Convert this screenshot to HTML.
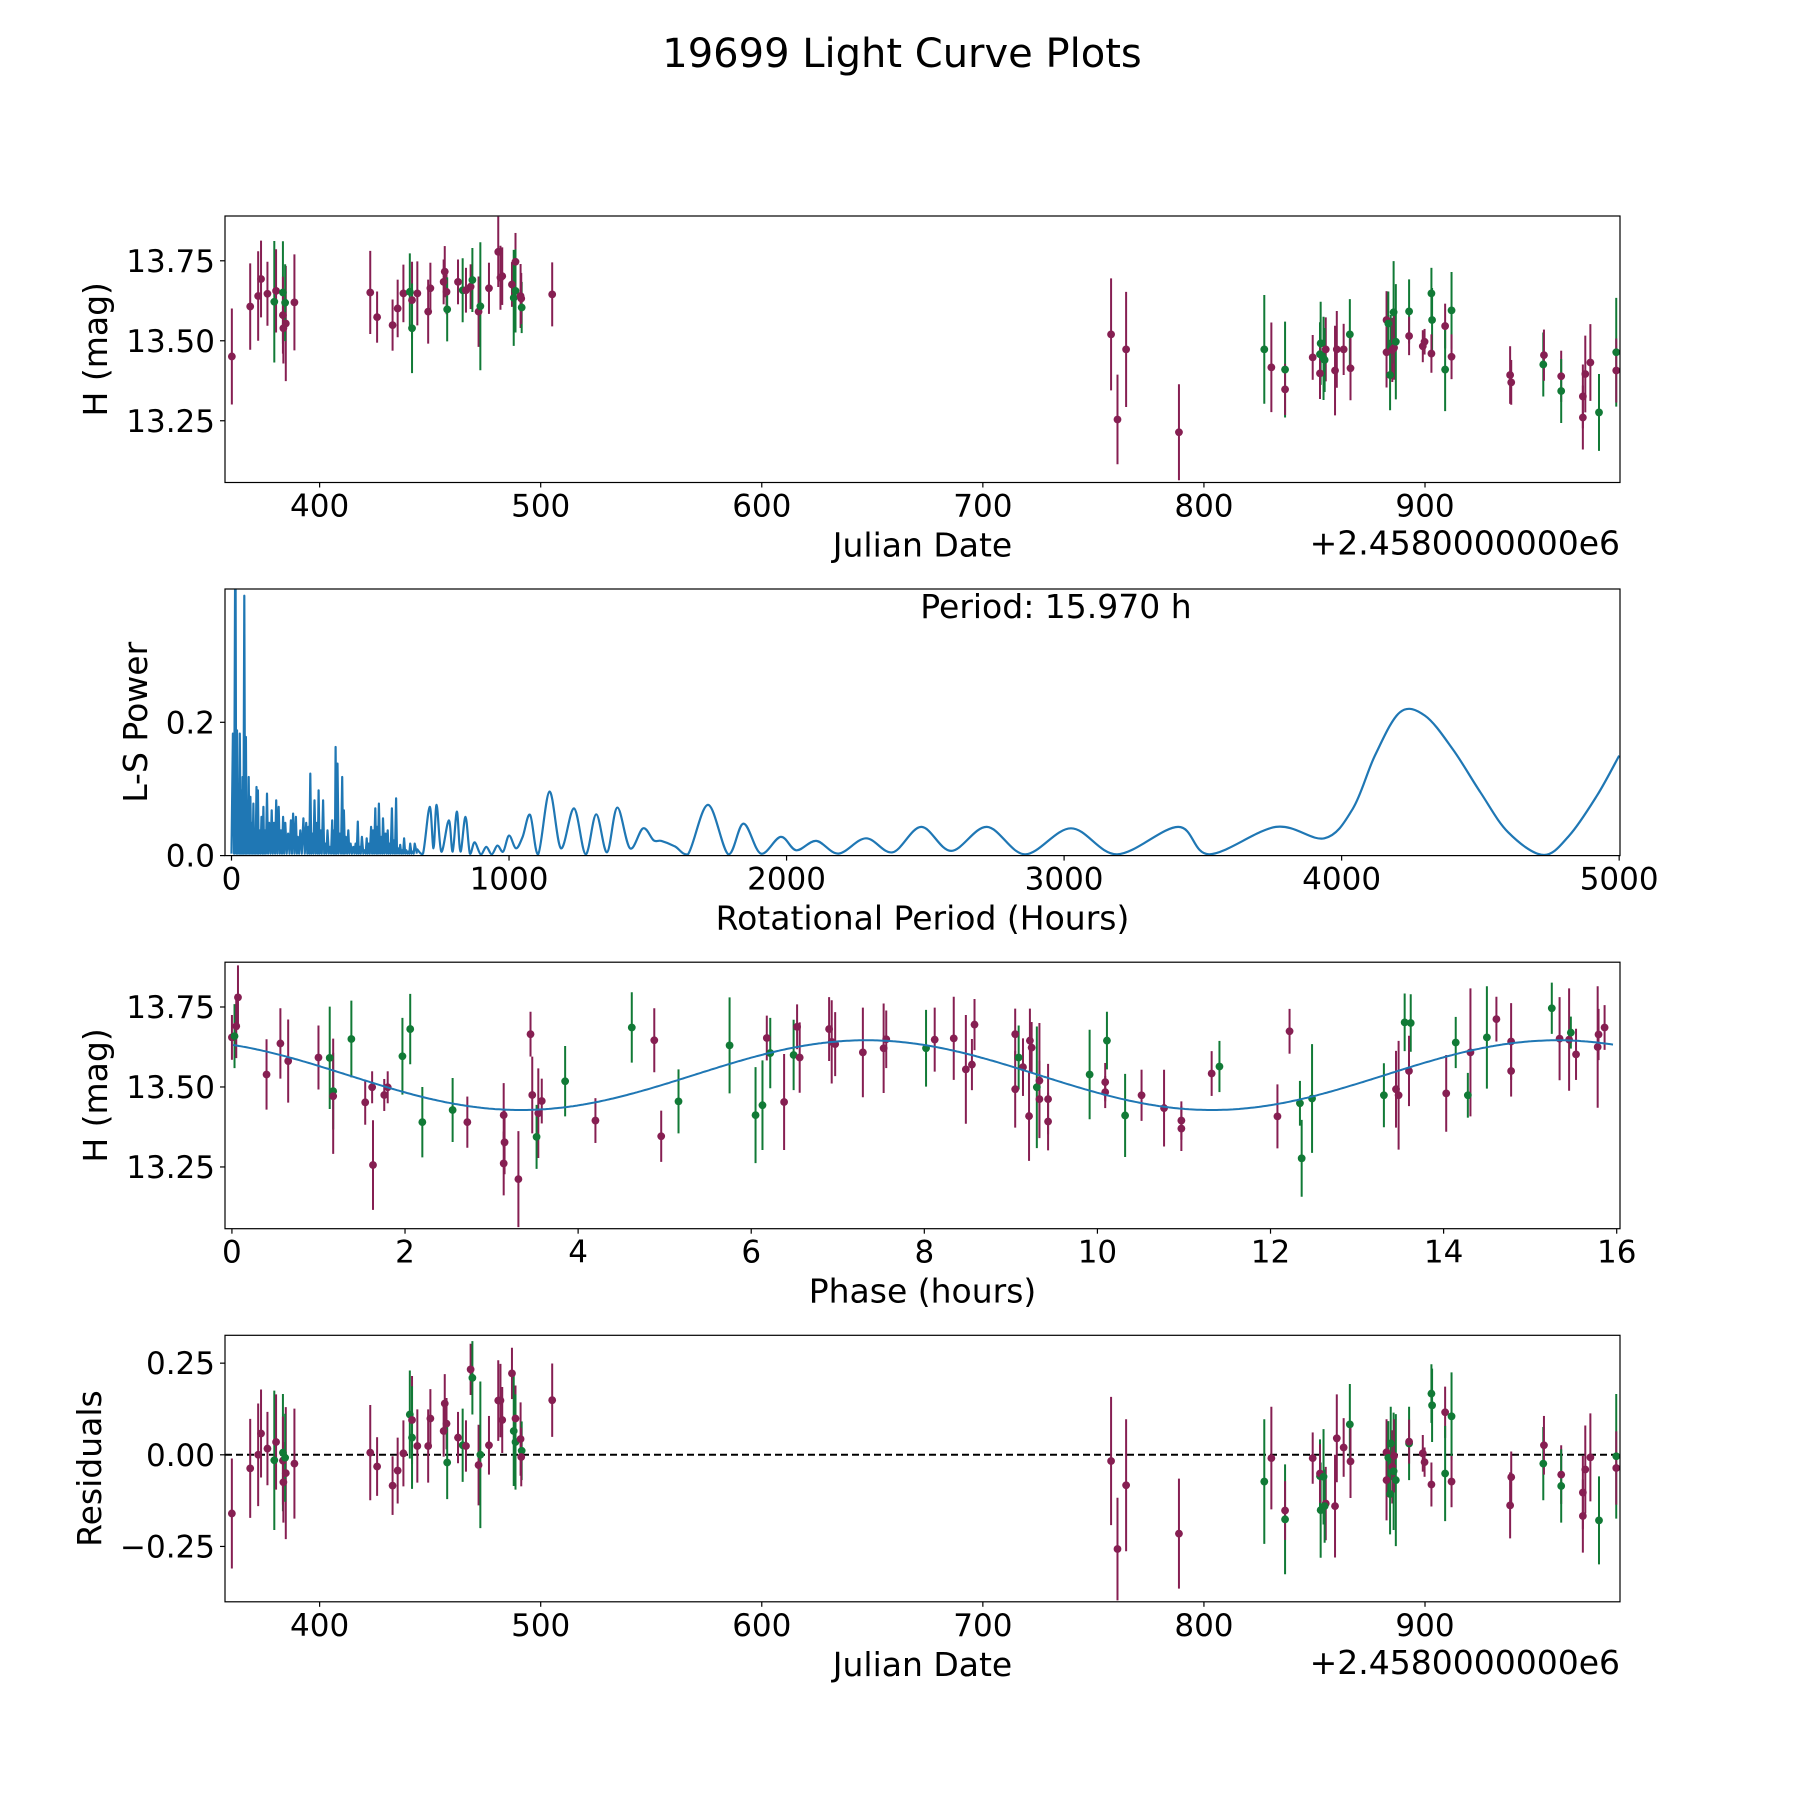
<!DOCTYPE html>
<html><head><meta charset="utf-8"><title>19699 Light Curve Plots</title>
<style>
html,body{margin:0;padding:0;background:#fff;}
svg{display:block;font-family:"DejaVu Sans","Liberation Sans",sans-serif;}
</style></head>
<body>
<svg id="fig" xmlns="http://www.w3.org/2000/svg" width="1800" height="1800" viewBox="0 0 1800 1800">
<rect x="0" y="0" width="1800" height="1800" fill="#fff"/>
<text x="902" y="67" font-size="40" text-anchor="middle" fill="#000">19699 Light Curve Plots</text>
</svg>
<script>
// ---------- Panel 1 / 4 data (Julian Date offset, magnitude, error, band) ----------
const jdOffset = [360.3,368.6,372.2,373.5,376.4,379.5,380.3,383.4,383.4,383.6,384.7,384.4,388.6,422.9,426.0,433.0,435.3,437.9,440.8,441.8,441.8,444.2,449.1,450.1,456.1,456.6,457.4,457.7,462.6,464.7,466.2,468.3,469.1,471.9,472.7,476.6,480.8,481.8,482.6,487.0,487.8,488.6,488.6,490.9,491.4,491.2,505.2,
758.0,760.9,764.8,788.7,827.3,830.5,836.7,836.7,849.2,852.5,852.8,852.5,854.1,855.1,854.6,859.3,860.1,863.2,866.0,866.3,882.6,882.6,883.4,884.2,884.5,885.2,885.8,886.0,886.8,892.8,892.8,899.0,899.8,902.9,903.2,902.9,909.1,909.1,912.0,912.0,938.5,939.0,953.5,953.8,961.6,961.6,971.4,971.4,972.5,974.8,978.7,986.5,986.5];
const magH = [13.451,13.607,13.640,13.693,13.647,13.622,13.656,13.651,13.580,13.539,13.554,13.619,13.620,13.651,13.574,13.549,13.601,13.648,13.653,13.627,13.539,13.648,13.591,13.664,13.684,13.716,13.653,13.598,13.684,13.658,13.658,13.669,13.690,13.591,13.608,13.664,13.778,13.697,13.702,13.676,13.634,13.747,13.656,13.640,13.604,13.632,13.645,
13.520,13.254,13.473,13.214,13.473,13.417,13.410,13.348,13.448,13.458,13.492,13.398,13.445,13.473,13.440,13.407,13.473,13.473,13.520,13.414,13.565,13.464,13.554,13.393,13.481,13.471,13.589,13.478,13.497,13.592,13.515,13.483,13.497,13.648,13.565,13.460,13.546,13.410,13.595,13.450,13.393,13.370,13.426,13.455,13.389,13.343,13.326,13.260,13.396,13.432,13.276,13.464,13.407];
const magErr = [0.15,0.135,0.14,0.12,0.10,0.19,0.13,0.16,0.12,0.11,0.18,0.12,0.15,0.13,0.08,0.08,0.09,0.09,0.12,0.12,0.14,0.10,0.10,0.08,0.07,0.08,0.07,0.10,0.07,0.10,0.07,0.07,0.10,0.11,0.20,0.08,0.11,0.10,0.09,0.07,0.15,0.09,0.13,0.10,0.08,0.08,0.10,
0.175,0.14,0.18,0.15,0.17,0.14,0.15,0.08,0.07,0.10,0.13,0.08,0.13,0.10,0.10,0.14,0.12,0.08,0.11,0.10,0.09,0.11,0.10,0.11,0.10,0.10,0.16,0.10,0.18,0.10,0.06,0.05,0.04,0.08,0.10,0.06,0.07,0.13,0.12,0.07,0.09,0.07,0.10,0.08,0.08,0.10,0.10,0.10,0.12,0.12,0.12,0.17,0.10];
const band = "PPPPPGPGPPPGPPPPPPGPGPPPPPPGPGPPGPGPPPPPGPGPGPP"+"PPPPGPGPPGGPGPGPPPGPPPGGGPGPGGPPPGGPPGGPPPGPPGPPPPGGP";
const residual = [-0.16,-0.037,0.0,0.058,0.017,-0.015,0.035,0.006,-0.016,-0.075,-0.05,-0.008,-0.024,0.006,-0.032,-0.084,-0.043,0.004,0.11,0.095,0.047,0.024,0.024,0.099,0.065,0.14,0.085,-0.021,0.047,0.026,0.024,0.233,0.21,-0.028,0.0,0.026,0.148,0.148,0.095,0.222,0.065,0.099,0.035,0.043,0.011,-0.006,0.149,
-0.017,-0.257,-0.083,-0.215,-0.073,-0.009,-0.176,-0.152,-0.009,-0.058,-0.151,-0.051,-0.06,-0.133,-0.14,-0.14,0.045,0.02,0.083,-0.018,0.007,-0.069,-0.008,-0.107,0.031,-0.033,-0.045,-0.003,-0.069,0.031,0.036,0.004,-0.02,0.167,0.135,-0.081,0.116,-0.051,0.105,-0.073,-0.138,-0.061,-0.024,0.026,-0.054,-0.085,-0.167,-0.103,-0.04,-0.007,-0.179,-0.004,-0.036];

// ---------- Panel 3 data (phase hours, magnitude, error, band) ----------
const phase = [0.0,0.03,0.05,0.07,0.40,0.56,0.65,1.0,1.13,1.17,1.17,1.38,1.54,1.62,1.63,1.76,1.80,1.97,2.06,2.20,2.55,2.72,3.14,3.15,3.14,3.31,3.45,3.47,3.54,3.52,3.58,3.85,4.20,4.62,4.88,4.96,5.16,5.75,6.05,6.13,6.18,6.22,6.38,6.49,6.53,6.56,6.90,6.93,6.97,7.29,7.53,7.56,8.02,8.12,
8.34,8.48,8.55,8.58,9.05,9.05,9.09,9.14,9.21,9.22,9.24,9.30,9.33,9.33,9.43,9.43,9.91,10.09,10.09,10.11,10.32,10.51,10.77,10.97,10.97,11.32,11.41,12.08,12.22,12.34,12.36,12.48,13.31,13.45,13.48,13.55,13.62,13.60,14.03,14.14,14.28,14.31,14.50,14.61,14.78,14.78,15.25,15.34,15.45,15.47,15.53,15.78,15.79,15.86];
const phaseMag = [13.655,13.659,13.69,13.78,13.539,13.636,13.581,13.592,13.591,13.487,13.471,13.65,13.452,13.499,13.256,13.475,13.499,13.596,13.681,13.39,13.428,13.39,13.412,13.327,13.261,13.212,13.665,13.475,13.418,13.344,13.456,13.518,13.395,13.686,13.646,13.346,13.455,13.63,13.412,13.443,13.653,13.606,13.453,13.6,13.688,13.592,13.681,13.641,13.634,13.608,13.621,13.649,13.621,13.648,
13.652,13.555,13.57,13.695,13.665,13.493,13.592,13.562,13.409,13.645,13.623,13.499,13.52,13.462,13.462,13.392,13.539,13.515,13.484,13.645,13.411,13.474,13.434,13.395,13.37,13.542,13.564,13.408,13.674,13.449,13.277,13.464,13.474,13.493,13.474,13.702,13.7,13.55,13.48,13.639,13.474,13.608,13.655,13.712,13.642,13.55,13.746,13.651,13.648,13.67,13.602,13.625,13.664,13.686];
const phaseErr = [0.07,0.1,0.1,0.1,0.11,0.11,0.13,0.1,0.16,0.12,0.18,0.12,0.07,0.05,0.14,0.05,0.05,0.12,0.11,0.11,0.1,0.08,0.1,0.1,0.1,0.15,0.07,0.12,0.14,0.1,0.07,0.11,0.07,0.11,0.1,0.08,0.1,0.15,0.15,0.14,0.07,0.11,0.15,0.11,0.07,0.11,0.1,0.13,0.1,0.14,0.14,0.09,0.12,0.1,
0.13,0.17,0.08,0.08,0.08,0.12,0.1,0.09,0.14,0.1,0.08,0.19,0.18,0.12,0.11,0.09,0.14,0.06,0.05,0.09,0.13,0.08,0.12,0.06,0.07,0.07,0.08,0.1,0.07,0.07,0.12,0.17,0.1,0.12,0.17,0.09,0.09,0.11,0.12,0.08,0.07,0.2,0.16,0.07,0.12,0.08,0.08,0.13,0.16,0.05,0.08,0.19,0.08,0.07];
const phaseBand = "PGPPPPPPGGPGPPPPPGGGGPPPPPPPPGPGPGPPGGGGPGPGPPPPPPPPGP"+"PPPPPPGPPPPGPPPPGPPGGPPPPPGPPGGGGPPGGPPGGPGPPPGPPGPP";
const modelMean = 13.537, modelAmp = 0.109, modelPeak = 7.33, modelHalfPeriod = 7.985;

// ---------- Panel 2 data (Lomb-Scargle periodogram) ----------
const spikePeriod = [5,14,20,26,30,36,40,46,52,57,62,68,73,79,84,90,95,101,108,115,120,128,136,145,153,161,170,178,186,194,204,214,222,232,239,248,259,269,277,284,291,299,308,314,321,330,338,346,355,363,370,375,382,390,399,405,412,421,429,439,447,455,462,470,480,487,494,503,510,518,525,531,540,546,555,563,569,578,585,593,600,608,615,622,630,637,644,653,660];
const spikePower = [0.183,0.55,0.188,0.02,0.183,0.098,0.118,0.39,0.178,0.049,0.118,0.088,0.049,0.078,0.038,0.103,0.098,0.038,0.058,0.073,0.038,0.093,0.049,0.068,0.049,0.083,0.073,0.038,0.058,0.049,0.033,0.053,0.063,0.058,0.028,0.038,0.056,0.049,0.043,0.123,0.033,0.083,0.049,0.098,0.038,0.083,0.018,0.038,0.013,0.053,0.038,0.163,0.138,0.033,0.118,0.068,0.028,0.038,0.018,0.013,0.018,0.051,0.013,0.028,0.008,0.026,0.018,0.043,0.038,0.071,0.043,0.078,0.028,0.056,0.033,0.038,0.018,0.071,0.023,0.086,0.011,0.016,0.008,0.026,0.008,0.006,0.018,0.006,0.018];
const smoothPeriod = [668,690,714,728,739,756,783,797,812,825,843,859,876,898,918,938,958,979,1000,1025,1049,1076,1105,1146,1187,1234,1276,1314,1353,1390,1436,1483,1521,1549,1597,1645,1717,1790,1845,1907,1979,2035,2107,2187,2286,2382,2485,2593,2722,2859,3025,3191,3411,3523,3763,3938,4040,4120,4210,4300,4400,4500,4600,4726,4820,4920,5000];
const smoothPower = [0.01,0.003,0.073,0.011,0.076,0.006,0.053,0.006,0.066,0.006,0.058,0.003,0.020,0.002,0.013,0.002,0.015,0.006,0.030,0.011,0.028,0.061,0.002,0.096,0.011,0.071,0.002,0.062,0.005,0.072,0.011,0.041,0.023,0.022,0.014,0.002,0.076,0.002,0.048,0.003,0.028,0.008,0.022,0.003,0.026,0.005,0.043,0.007,0.043,0.002,0.041,0.002,0.043,0.002,0.043,0.026,0.07,0.15,0.215,0.21,0.16,0.095,0.035,0.001,0.03,0.09,0.15];

// ---------- Tick labels ----------
const jdTicks = [400,500,600,700,800,900];
const magTicks = [13.25,13.50,13.75];
const magTickLabels = ["13.25","13.50","13.75"];
const powTicks = [0,0.2];
const powTickLabels = ["0.0","0.2"];
const perTicks = [0,1000,2000,3000,4000,5000];
const phTicks = [0,2,4,6,8,10,12,14,16];
const resTicks = [-0.25,0,0.25];
const resTickLabels = ["\u22120.25","0.00","0.25"];

const NS = "http://www.w3.org/2000/svg";
const svg = document.getElementById("fig");
const PURPLE = "#861f52", GREEN = "#117a36", BLUE = "#1f77b4";
function el(tag, attrs, parent) {
  const e = document.createElementNS(NS, tag);
  for (const k in attrs) e.setAttribute(k, attrs[k]);
  (parent || svg).appendChild(e);
  return e;
}
function makeAxes(id, L, T, R, B, xlim, ylim) {
  const g = el("g", {});
  
  
  const cp = el("clipPath", {id: id + "-clip"}, g);
  el("rect", {x: L, y: T, width: R - L, height: B - T}, cp);
  const plot = el("g", {"clip-path": "url(#" + id + "-clip)"}, g);
  
  
  const sx = v => L + (v - xlim[0]) / (xlim[1] - xlim[0]) * (R - L);
  const sy = v => B - (v - ylim[0]) / (ylim[1] - ylim[0]) * (B - T);
  return {g, plot, sx, sy, L, T, R, B};
}
function frame(ax, id) {
  const r = el("rect", {x: ax.L, y: ax.T, width: ax.R - ax.L, height: ax.B - ax.T, fill: "none", stroke: "#000", "stroke-width": 1.2}, ax.g);
  
  
}
function xTicks(ax, id, vals, labels) {
  vals.forEach((v, i) => {
    const x = ax.sx(v);
    const t = el("line", {x1: x, x2: x, y1: ax.B, y2: ax.B + 5, stroke: "#000", "stroke-width": 1.2}, ax.g);
    
    
    const tx = el("text", {x: x, y: ax.B + 34, "font-size": 31, "text-anchor": "middle"}, ax.g);
    tx.textContent = labels ? labels[i] : String(v);
    
    
  });
}
function yTicks(ax, id, vals, labels) {
  vals.forEach((v, i) => {
    const y = ax.sy(v);
    const t = el("line", {x1: ax.L - 5, x2: ax.L, y1: y, y2: y, stroke: "#000", "stroke-width": 1.2}, ax.g);
    
    
    const tx = el("text", {x: ax.L - 10, y: y + 11, "font-size": 31, "text-anchor": "end"}, ax.g);
    tx.textContent = labels[i];
    
    
  });
}
function xLabel(ax, id, text) {
  const tx = el("text", {x: (ax.L + ax.R) / 2, y: ax.B + 74, "font-size": 33, "text-anchor": "middle"}, ax.g);
  tx.textContent = text;
  
  
}
function yLabel(ax, id, text, bx) {
  const cy = (ax.T + ax.B) / 2;
  const tx = el("text", {x: bx, y: cy, "font-size": 33, "text-anchor": "middle", transform: "rotate(-90 " + bx + " " + cy + ")"}, ax.g);
  tx.textContent = text;
  
  
}
function offsetText(ax, id) {
  const tx = el("text", {x: ax.R, y: ax.B + 72, "font-size": 33, "text-anchor": "end"}, ax.g);
  tx.textContent = "+2.4580000000e6";
  
  
}
function errPoints(ax, id, xs, ys, es, bands) {
  for (let i = 0; i < xs.length; i++) {
    const c = bands[i] === "G" ? GREEN : PURPLE;
    const x = ax.sx(xs[i]);
    const bar = el("line", {x1: x, x2: x, y1: ax.sy(ys[i] - es[i]), y2: ax.sy(ys[i] + es[i]), stroke: c, "stroke-width": 2}, ax.plot);
    
    
  }
  for (let i = 0; i < xs.length; i++) {
    const c = bands[i] === "G" ? GREEN : PURPLE;
    const p = el("circle", {cx: ax.sx(xs[i]), cy: ax.sy(ys[i]), r: 3.9, fill: c}, ax.plot);
    
    
  }
}

// ---------- Panel 1: light curve ----------
const ax1 = makeAxes("light-curve", 225, 216, 1620, 482.5, [357.2, 988.2], [13.057, 13.890]);
errPoints(ax1, "light-curve", jdOffset, magH, magErr, band);
frame(ax1, "light-curve");
xTicks(ax1, "light-curve", jdTicks);
yTicks(ax1, "light-curve", magTicks, magTickLabels);
xLabel(ax1, "light-curve", "Julian Date");
offsetText(ax1, "light-curve");
yLabel(ax1, "light-curve", "H (mag)", 107);

// ---------- Panel 2: periodogram ----------
const ax2 = makeAxes("periodogram", 225, 589, 1620, 855.6, [-23.4, 5003], [0, 0.4]);
let d = "";
for (let i = 0; i < spikePeriod.length; i++) {
  const prevP = i === 0 ? 0 : (spikePeriod[i - 1] + spikePeriod[i]) / 2;
  const nextP = i === spikePeriod.length - 1 ? smoothPeriod[0] : (spikePeriod[i] + spikePeriod[i + 1]) / 2;
  d += (i === 0 ? "M" : "L") + ax2.sx(prevP).toFixed(1) + "," + ax2.sy(0.003).toFixed(1);
  d += "L" + ax2.sx(spikePeriod[i]).toFixed(1) + "," + ax2.sy(spikePower[i]).toFixed(1);
  d += "L" + ax2.sx(nextP).toFixed(1) + "," + ax2.sy(0.003).toFixed(1);
}
const dense = el("path", {d: d, fill: "none", stroke: BLUE, "stroke-width": 2.2, "stroke-linejoin": "round"}, ax2.plot);


const pts = smoothPeriod.map((p, i) => [ax2.sx(p), ax2.sy(smoothPower[i])]);
let s = "M" + pts[0][0] + "," + pts[0][1];
for (let i = 0; i < pts.length - 1; i++) {
  const p0 = pts[Math.max(0, i - 1)], p1 = pts[i], p2 = pts[i + 1], p3 = pts[Math.min(pts.length - 1, i + 2)];
  const c1 = [p1[0] + (p2[0] - p0[0]) / 6, p1[1] + (p2[1] - p0[1]) / 6];
  const c2 = [p2[0] - (p3[0] - p1[0]) / 6, p2[1] - (p3[1] - p1[1]) / 6];
  s += "C" + c1[0].toFixed(1) + "," + Math.min(ax2.B, c1[1]).toFixed(1) + " " + c2[0].toFixed(1) + "," + Math.min(ax2.B, c2[1]).toFixed(1) + " " + p2[0].toFixed(1) + "," + p2[1].toFixed(1);
}
const smooth = el("path", {d: s, fill: "none", stroke: BLUE, "stroke-width": 2.2}, ax2.plot);


frame(ax2, "periodogram");
xTicks(ax2, "periodogram", perTicks);
yTicks(ax2, "periodogram", powTicks, powTickLabels);
xLabel(ax2, "periodogram", "Rotational Period (Hours)");
yLabel(ax2, "periodogram", "L-S Power", 147);
const per = el("text", {x: 1056, y: 618, "font-size": 33, "text-anchor": "middle"}, ax2.g);
per.textContent = "Period: 15.970 h";



// ---------- Panel 3: phased light curve ----------
const ax3 = makeAxes("phased-curve", 225, 962.2, 1620, 1228.7, [-0.080, 16.038], [13.057, 13.890]);
errPoints(ax3, "phased-curve", phase, phaseMag, phaseErr, phaseBand);
let m = "";
for (let px = ax3.L; px <= ax3.R; px += 2) {
  const ph = -0.080 + (px - ax3.L) / (ax3.R - ax3.L) * 16.118;
  if (ph < 0 || ph > 15.97) continue;
  const v = modelMean + modelAmp * Math.cos(2 * Math.PI * (ph - modelPeak) / modelHalfPeriod);
  m += (m ? "L" : "M") + px.toFixed(1) + "," + ax3.sy(v).toFixed(1);
}
const model = el("path", {d: m, fill: "none", stroke: BLUE, "stroke-width": 2}, ax3.plot);


frame(ax3, "phased-curve");
xTicks(ax3, "phased-curve", phTicks);
yTicks(ax3, "phased-curve", magTicks, magTickLabels);
xLabel(ax3, "phased-curve", "Phase (hours)");
yLabel(ax3, "phased-curve", "H (mag)", 107);

// ---------- Panel 4: residuals ----------
const ax4 = makeAxes("residuals", 225, 1335.3, 1620, 1601.8, [357.2, 988.2], [-0.401, 0.326]);
const zl = el("line", {x1: ax4.L, x2: ax4.R, y1: ax4.sy(0), y2: ax4.sy(0), stroke: "#000", "stroke-width": 2, "stroke-dasharray": "7,4"}, ax4.plot);


errPoints(ax4, "residuals", jdOffset, residual, magErr, band);
frame(ax4, "residuals");
xTicks(ax4, "residuals", jdTicks);
yTicks(ax4, "residuals", resTicks, resTickLabels);
xLabel(ax4, "residuals", "Julian Date");
offsetText(ax4, "residuals");
yLabel(ax4, "residuals", "Residuals", 101);
</script>
</body></html>
